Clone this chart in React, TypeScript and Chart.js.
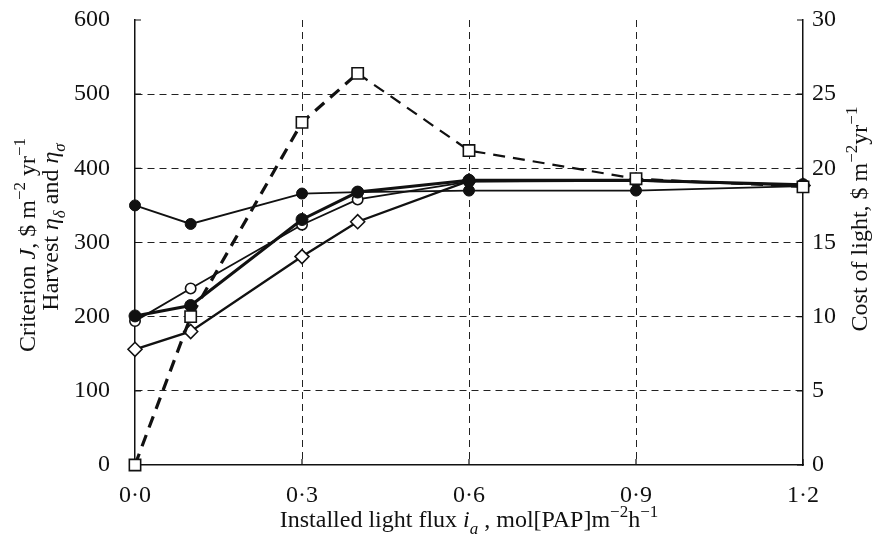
import { useEffect, useRef } from 'react';
import { Chart, registerables } from 'chart.js';

Chart.register(...registerables);

// ---- data ----
const fluxValues = [0, 0.1, 0.3, 0.4, 0.6, 0.9, 1.2];
const criterionFilledThin = [350, 325, 366, 368, 370, 370, 376];
const criterionFilledThick = [201, 215, 331, 368, 384, 384, 378];
const harvestOpenCircle = [194, 238, 324, 358, 382, 383, 378];
const harvestDiamond = [156, 180, 281, 328, 383, 384, 377];
const costOfLight = [0, 10.0, 23.1, 26.4, 21.2, 19.3, 18.75];

const xTicks = [0, 0.3, 0.6, 0.9, 1.2];
const leftTicks = [0, 100, 200, 300, 400, 500, 600];
const rightTicks = [0, 5, 10, 15, 20, 25, 30];

const FAMILY = '"Liberation Serif", "DejaVu Serif", serif';
const INK = '#111';

type Seg = { t: string; it?: boolean; sup?: boolean; sub?: boolean };

const leftTitle1: Seg[] = [
  { t: 'Criterion ' }, { t: 'J', it: true }, { t: ', $ m' }, { t: '\u22122', sup: true },
  { t: ' yr' }, { t: '\u22121', sup: true },
];
const leftTitle2: Seg[] = [
  { t: 'Harvest ' }, { t: '\u03b7', it: true }, { t: '\u03b4', it: true, sub: true },
  { t: ' and ' }, { t: '\u03b7', it: true }, { t: '\u03c3', it: true, sub: true },
];
const rightTitle: Seg[] = [
  { t: 'Cost of light, $ m' }, { t: '\u22122', sup: true }, { t: 'yr' }, { t: '\u22121', sup: true },
];
const bottomTitle: Seg[] = [
  { t: 'Installed light flux ' }, { t: 'i', it: true }, { t: 'a', it: true, sub: true },
  { t: ' , mol[PAP]m' }, { t: '\u22122', sup: true }, { t: 'h' }, { t: '\u22121', sup: true },
];

function drawRich(ctx: CanvasRenderingContext2D, segs: Seg[], cx: number, cy: number, rot: number, size: number) {
  ctx.save();
  ctx.translate(cx, cy);
  ctx.rotate(rot);
  const fontFor = (s: Seg) =>
    `${s.it ? 'italic ' : ''}${s.sup || s.sub ? Math.round(size * 0.7) : size}px ${FAMILY}`;
  let total = 0;
  const widths = segs.map((s) => {
    ctx.font = fontFor(s);
    const w = ctx.measureText(s.t).width;
    total += w;
    return w;
  });
  let x = -total / 2;
  ctx.textBaseline = 'alphabetic';
  ctx.textAlign = 'left';
  ctx.fillStyle = INK;
  segs.forEach((s, i) => {
    ctx.font = fontFor(s);
    const dy = s.sup ? -size * 0.42 : s.sub ? size * 0.28 : 0;
    ctx.fillText(s.t, x, dy);
    x += widths[i];
  });
  ctx.restore();
}

const titlesPlugin = {
  id: 'richTitles',
  afterDraw(chart: any) {
    const ctx = chart.ctx as CanvasRenderingContext2D;
    drawRich(ctx, leftTitle1, 35, 245, -Math.PI / 2, 24);
    drawRich(ctx, leftTitle2, 58, 227, -Math.PI / 2, 24);
    drawRich(ctx, rightTitle, 867, 219, -Math.PI / 2, 24);
    drawRich(ctx, bottomTitle, 469, 527, 0, 24);
  },
};

const innerTicksPlugin = {
  id: 'innerTicks',
  beforeDatasetsDraw(chart: any) {
    const ctx = chart.ctx as CanvasRenderingContext2D;
    const { left, right, bottom } = chart.chartArea;
    const len = 6;
    ctx.save();
    ctx.strokeStyle = INK;
    ctx.lineWidth = 1.2;
    ctx.beginPath();
    leftTicks.forEach((v) => {
      const y = chart.scales.y.getPixelForValue(v);
      ctx.moveTo(left, y);
      ctx.lineTo(left + len, y);
    });
    rightTicks.forEach((v) => {
      const y = chart.scales.y1.getPixelForValue(v);
      ctx.moveTo(right, y);
      ctx.lineTo(right - len, y);
    });
    xTicks.forEach((v) => {
      const x = chart.scales.x.getPixelForValue(v);
      ctx.moveTo(x, bottom);
      ctx.lineTo(x, bottom - len);
    });
    ctx.stroke();
    ctx.restore();
  },
};

const toPoints = (ys: number[]) => fluxValues.map((x, i) => ({ x, y: ys[i] }));

export default function App() {
  const ref = useRef<HTMLCanvasElement | null>(null);

  useEffect(() => {
    document.body.style.margin = '0';
    const canvas = ref.current;
    if (!canvas) return;
    const tickFont = { family: FAMILY, size: 24 };

    const chart = new Chart(canvas, {
      type: 'line',
      data: {
        datasets: [
          {
            label: 'Cost of light',
            data: toPoints(costOfLight),
            yAxisID: 'y1',
            borderColor: INK,
            borderWidth: 2.4,
            borderDash: [12, 8],
            segment: {
              borderWidth: (c: any) => (c.p0DataIndex < 3 ? 3.2 : 2.2),
            },
            pointStyle: 'rect',
            pointRadius: 8,
            pointBackgroundColor: '#fff',
            pointBorderColor: INK,
            pointBorderWidth: 1.6,
            clip: false,
          } as any,
          {
            label: 'Criterion (thick)',
            data: toPoints(criterionFilledThick),
            yAxisID: 'y',
            borderColor: INK,
            borderWidth: 3,
            pointStyle: 'circle',
            pointRadius: 6,
            pointBackgroundColor: INK,
            pointBorderColor: INK,
            pointBorderWidth: 1,
            clip: false,
          } as any,
          {
            label: 'Criterion (thin)',
            data: toPoints(criterionFilledThin),
            yAxisID: 'y',
            borderColor: INK,
            borderWidth: 1.8,
            pointStyle: 'circle',
            pointRadius: 5.5,
            pointBackgroundColor: INK,
            pointBorderColor: INK,
            pointBorderWidth: 1,
            clip: false,
          } as any,
          {
            label: 'Harvest (circle)',
            data: toPoints(harvestOpenCircle),
            yAxisID: 'y',
            borderColor: INK,
            borderWidth: 1.8,
            pointStyle: 'circle',
            pointRadius: 5.2,
            pointBackgroundColor: '#fff',
            pointBorderColor: INK,
            pointBorderWidth: 1.6,
            clip: false,
          } as any,
          {
            label: 'Harvest (diamond)',
            data: toPoints(harvestDiamond),
            yAxisID: 'y',
            borderColor: INK,
            borderWidth: 2.4,
            pointStyle: 'rectRot',
            pointRadius: 7,
            pointBackgroundColor: '#fff',
            pointBorderColor: INK,
            pointBorderWidth: 1.6,
            clip: false,
          } as any,
        ],
      },
      options: {
        responsive: false,
        devicePixelRatio: 1,
        animation: false,
        layout: { padding: { top: 20, left: 0, right: 0, bottom: 0 } },
        plugins: { legend: { display: false }, tooltip: { enabled: false } },
        elements: { line: { tension: 0 } },
        scales: {
          x: {
            type: 'linear',
            min: 0,
            max: 1.2,
            afterBuildTicks: (s: any) => {
              s.ticks = xTicks.map((v) => ({ value: v }));
            },
            afterFit: (s: any) => {
              s.height = 75;
              s.paddingLeft = 0;
              s.paddingRight = 0;
            },
            ticks: {
              font: tickFont,
              color: INK,
              padding: 16,
              maxRotation: 0,
              callback: (v: any) => Number(v).toFixed(1).replace('.', '\u00b7'),
            },
            grid: {
              drawTicks: false,
              lineWidth: 1,
              color: (c: any) =>
                c.tick && c.tick.value > 0.01 && c.tick.value < 1.19 ? '#222' : 'rgba(0,0,0,0)',
            },
            border: { display: true, color: INK, width: 1.5, dash: [7, 5] },
          },
          y: {
            type: 'linear',
            position: 'left',
            min: 0,
            max: 600,
            afterBuildTicks: (s: any) => {
              s.ticks = leftTicks.map((v) => ({ value: v }));
            },
            afterFit: (s: any) => {
              s.width = 135;
              s.paddingTop = 0;
              s.paddingBottom = 0;
            },
            ticks: { font: tickFont, color: INK, padding: 25 },
            grid: {
              drawTicks: false,
              lineWidth: 1,
              color: (c: any) =>
                c.tick && c.tick.value > 0 && c.tick.value < 600 ? '#222' : 'rgba(0,0,0,0)',
            },
            border: { display: true, color: INK, width: 1.5, dash: [7, 5] },
          },
          y1: {
            type: 'linear',
            position: 'right',
            min: 0,
            max: 30,
            afterBuildTicks: (s: any) => {
              s.ticks = rightTicks.map((v) => ({ value: v }));
            },
            afterFit: (s: any) => {
              s.width = 71;
              s.paddingTop = 0;
              s.paddingBottom = 0;
            },
            ticks: { font: tickFont, color: INK, padding: 9 },
            grid: { display: false, drawTicks: false },
            border: { display: true, color: INK, width: 1.5 },
          },
        },
      } as any,
      plugins: [innerTicksPlugin, titlesPlugin],
    });

    return () => chart.destroy();
  }, []);

  return (
    <div style={{ width: 874, height: 540, background: '#fff' }}>
      <canvas ref={ref} width={874} height={540} style={{ display: 'block' }} />
    </div>
  );
}
